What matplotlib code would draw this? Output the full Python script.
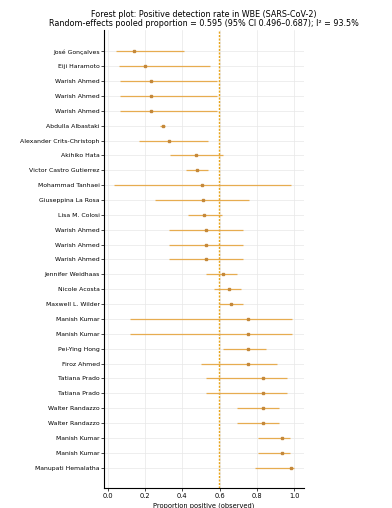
import matplotlib
matplotlib.use("Agg")
import matplotlib.pyplot as plt

# study labels, top to bottom
studies = [
    "José Gonçalves", "Eiji Haramoto", "Warish Ahmed", "Warish Ahmed",
    "Warish Ahmed", "Abdulla Albastaki", "Alexander Crits-Christoph",
    "Akihiko Hata", "Victor Castro Gutierrez", "Mohammad Tanhaei",
    "Giuseppina La Rosa", "Lisa M. Colosi", "Warish Ahmed", "Warish Ahmed",
    "Warish Ahmed", "Jennifer Weidhaas", "Nicole Acosta", "Maxwell L. Wilder",
    "Manish Kumar", "Manish Kumar", "Pei-Ying Hong", "Firoz Ahmed",
    "Tatiana Prado", "Tatiana Prado", "Walter Randazzo", "Walter Randazzo",
    "Manish Kumar", "Manish Kumar", "Manupati Hemalatha",
]
prop = [0.14, 0.20, 0.23, 0.23, 0.23, 0.294, 0.326, 0.474, 0.48, 0.506,
        0.508, 0.518, 0.529, 0.529, 0.529, 0.615, 0.647, 0.662, 0.753, 0.753,
        0.753, 0.753, 0.834, 0.834, 0.834, 0.834, 0.931, 0.931, 0.981]
ci_low = [0.045, 0.06, 0.068, 0.068, 0.068, 0.28, 0.17, 0.335, 0.42, 0.032,
          0.255, 0.428, 0.326, 0.326, 0.326, 0.529, 0.572, 0.594, 0.12, 0.12,
          0.62, 0.498, 0.529, 0.529, 0.694, 0.694, 0.807, 0.807, 0.787]
ci_high = [0.41, 0.548, 0.583, 0.583, 0.583, 0.307, 0.538, 0.617, 0.536, 0.981,
           0.759, 0.613, 0.725, 0.725, 0.725, 0.694, 0.712, 0.725, 0.985, 0.985,
           0.85, 0.906, 0.96, 0.96, 0.918, 0.918, 0.976, 0.976, 0.996]
pooled = 0.595

line_col = "#e6a53f"
dot_col = "#c4883a"

fig, ax = plt.subplots(figsize=(3.92, 5.08), dpi=100)
ypos = list(range(len(studies)))

ax.hlines(ypos, ci_low, ci_high, color=line_col, linewidth=0.9, alpha=0.9, zorder=2)
ax.plot(prop, ypos, "s", color=dot_col, markersize=1.7, zorder=3)
ax.axvline(pooled, color="#e8a317", linestyle=(0, (1.5, 1.0)), linewidth=1.0, zorder=1)

ax.set_yticks(ypos)
ax.set_yticklabels(studies, fontsize=4.4)
ax.set_ylim(len(studies) - 1 + 1.35, -1.4)
ax.set_xlim(-0.02, 1.05)
ax.set_xticks([0.0, 0.2, 0.4, 0.6, 0.8, 1.0])
ax.tick_params(axis="x", labelsize=4.8, length=2, width=0.5, pad=2)
ax.tick_params(axis="y", length=2, width=0.5, pad=1)
ax.set_xlabel("Proportion positive (observed)", fontsize=4.8, labelpad=2)
ax.grid(True, color="#e8e8e8", linewidth=0.5, zorder=0)
ax.set_axisbelow(True)
for s in ["top", "right"]:
    ax.spines[s].set_visible(False)
for s in ["left", "bottom"]:
    ax.spines[s].set_linewidth(0.8)

ax.set_title("Forest plot: Positive detection rate in WBE (SARS-CoV-2)\n"
             "Random-effects pooled proportion = 0.595 (95% CI 0.496\u20130.687); I\u00b2 = 93.5%",
             fontsize=5.8, pad=3, linespacing=1.05)

fig.subplots_adjust(left=0.265, right=0.775, top=0.94, bottom=0.04)
fig.savefig("out.png", dpi=100)
